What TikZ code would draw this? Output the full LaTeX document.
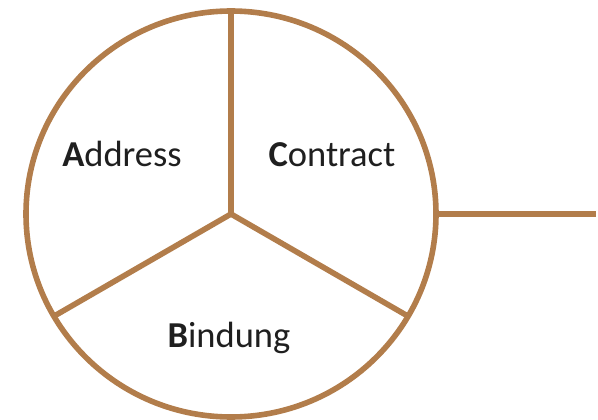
\documentclass[tikz,border=0pt]{standalone}
\usepackage{fontspec}
\setmainfont{Carlito}
\usetikzlibrary{shapes.geometric}
\definecolor{ringbrown}{RGB}{178,125,75}
\begin{document}
\begin{tikzpicture}[x=1pt,y=-1pt,
  rim/.style={draw=ringbrown,line width=5.6pt},
  spoke/.style={draw=ringbrown,line width=5.6pt,line cap=butt},
  label/.style={font=\fontsize{36.5}{40}\selectfont,text=black!88,inner sep=0pt,anchor=base}]
  \useasboundingbox (0,0) rectangle (598,420);
  % outer ring
  \node (ring) [ellipse,rim,minimum width=410,minimum height=406,inner sep=0pt,outer sep=0pt] at (231,214) {};
  % three spokes from the hub
  \draw[spoke] (ring.center) -- (ring.north);
  \draw[spoke] (ring.center) -- (ring.-150);
  \draw[spoke] (ring.center) -- (ring.-30);
  % tail to the right
  \coordinate (tail) at (596,214);
  \draw[spoke] (ring.east) -- (tail);
  % sector labels
  \node (addr) [label] at (122,166) {\textbf{A}ddress};
  \node (cont) [label] at (332,166) {\textbf{C}ontract};
  \node (bind) [label] at (229,347) {\textbf{B}indung};
\end{tikzpicture}
\end{document}
